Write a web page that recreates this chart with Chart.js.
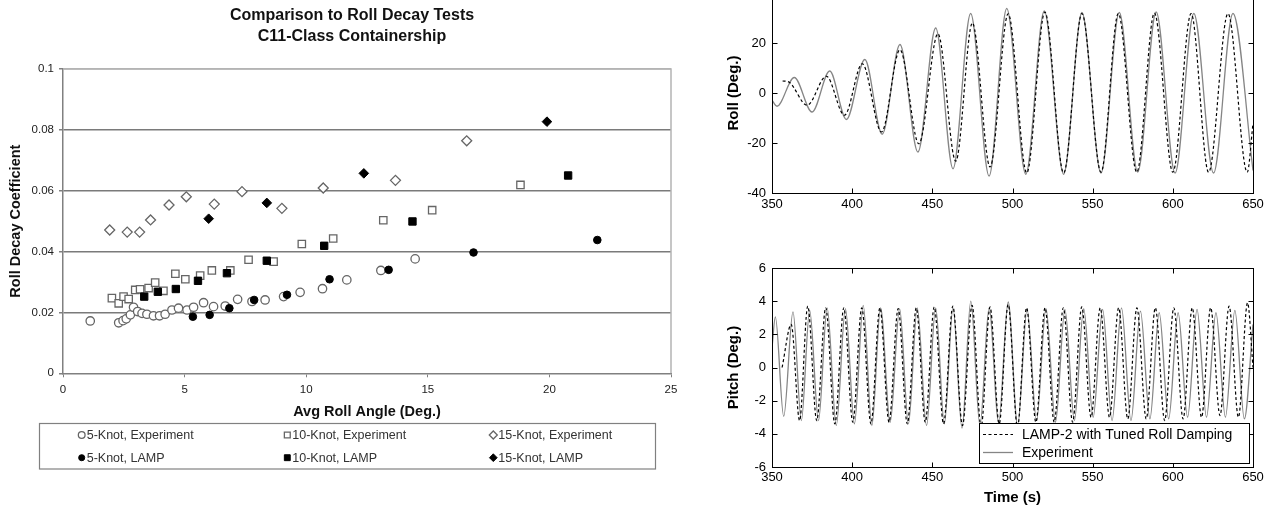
<!DOCTYPE html>
<html>
<head>
<meta charset="utf-8">
<script src="https://cdn.jsdelivr.net/npm/chart.js@4.4.0/dist/chart.umd.min.js"></script>
<style>
  body { margin: 0; background: #fff; width: 1270px; height: 509px; overflow: hidden; position: relative; }
  canvas { position: absolute; }
  #decay-chart { left: 0; top: 0; }
  #roll-chart { left: 700px; top: -27px; }
  #pitch-chart { left: 700px; top: 250px; }
</style>
</head>
<body>
<canvas id="decay-chart" width="700" height="509"></canvas>
<canvas id="roll-chart" width="570" height="250"></canvas>
<canvas id="pitch-chart" width="570" height="259"></canvas>
<script>
// roll-decay.js

// === Data: roll decay coefficient vs avg roll angle ===
const knot5Exp = [[1.12,0.0172],[2.29,0.0166],[2.47,0.0173],[2.60,0.0179],[2.77,0.0192],[2.90,0.0217],[3.07,0.0203],[3.25,0.0197],[3.45,0.0194],[3.72,0.0189],[3.97,0.0189],[4.20,0.0194],[4.48,0.0208],[4.75,0.0214],[5.10,0.0208],[5.37,0.0217],[5.78,0.0232],[6.19,0.0219],[6.67,0.0221],[7.18,0.0243],[7.77,0.0236],[8.31,0.0241],[9.07,0.0252],[9.75,0.0266],[10.67,0.0278],[11.67,0.0307],[13.07,0.0338],[14.48,0.0376]];
const knot10Exp = [[2.01,0.0247],[2.29,0.0230],[2.49,0.0252],[2.70,0.0244],[2.97,0.0274],[3.17,0.0276],[3.52,0.0280],[3.79,0.0298],[4.13,0.0271],[4.62,0.0327],[5.03,0.0309],[5.64,0.0321],[6.12,0.0338],[6.88,0.0338],[7.63,0.0373],[8.66,0.0367],[9.82,0.0425],[11.11,0.0443],[13.17,0.0503],[15.18,0.0536],[18.81,0.0619]];
const knot15Exp = [[1.92,0.0471],[2.64,0.0464],[3.15,0.0464],[3.60,0.0504],[4.36,0.0553],[5.07,0.0580],[6.22,0.0556],[7.36,0.0597],[9.00,0.0542],[10.70,0.0609],[13.67,0.0634],[16.60,0.0764]];
const knot5Lamp = [[5.34,0.0186],[6.03,0.0192],[6.84,0.0214],[7.86,0.0241],[9.21,0.0258],[10.96,0.0309],[13.39,0.0340],[16.88,0.0397],[21.97,0.0438]];
const knot10Lamp = [[3.34,0.0252],[3.90,0.0268],[4.64,0.0277],[5.55,0.0304],[6.74,0.0329],[8.38,0.0370],[10.74,0.0419],[14.37,0.0499],[20.77,0.0650]];
const knot15Lamp = [[5.99,0.0508],[8.38,0.0560],[12.37,0.0657],[19.90,0.0827]];

const decayTitle = ["Comparison to Roll Decay Tests", "C11-Class Containership"];

// === Data: roll time history (peaks and troughs) ===
const rollLampTime = [356.6, 360.5, 371.9, 383.9, 395.2, 406.3, 418.3, 429.8, 441.6, 453.5, 464.6, 475.0, 486.0, 497.3, 508.9, 520.2, 531.9, 543.3, 555.2, 566.0, 577.5, 588.5, 600.0, 611.4, 622.3, 634.4, 646.4, 650];
const rollLampDeg = [4.8, 4.4, -4.9, 6.7, -8.9, 11.7, -15.6, 17.3, -20.3, 23.7, -27.3, 28.0, -29.6, 31.7, -32.0, 32.4, -32.0, 31.8, -31.7, 31.8, -31.7, 32.0, -31.7, 31.8, -31.7, 31.8, -31.7, -12.2];
const rollExpTime = [350, 353.1, 363.9, 375.0, 386.0, 396.4, 407.9, 418.7, 429.8, 441.0, 452.1, 462.9, 473.9, 485.4, 496.4, 508.3, 519.8, 531.9, 543.3, 555.2, 566.6, 578.1, 589.6, 601.4, 613.1, 625.4, 637.5, 650];
const rollExpDeg = [-2.9, -5.3, 6.2, -7.6, 8.8, -10.6, 13.4, -16.5, 19.4, -23.6, 26.0, -30.3, 31.8, -33.2, 33.8, -32.5, 32.8, -32.5, 32.2, -32.0, 32.2, -31.6, 32.4, -32.0, 31.8, -32.0, 31.8, -31.0];

// === Data: pitch time history (peaks and troughs) ===
const pitchLampTime = [356.3, 362.0, 367.2, 372.3, 377.9, 383.5, 389.2, 394.8, 400.4, 406.0, 411.7, 417.3, 423.0, 428.7, 434.4, 440.0, 445.6, 451.2, 457.0, 462.8, 468.8, 474.8, 480.4, 486.0, 491.7, 497.3, 503.1, 508.8, 514.6, 520.3, 526.0, 531.7, 537.5, 543.2, 549.0, 554.7, 560.5, 566.2, 571.9, 577.6, 583.4, 589.1, 594.9, 600.6, 606.4, 612.1, 617.9, 623.6, 629.4, 635.1, 640.9, 646.6, 650];
const pitchLampDeg = [0, 2.6, -3.2, 3.7, -3.2, 3.6, -3.4, 3.6, -3.3, 3.6, -3.4, 3.6, -3.3, 3.55, -3.4, 3.6, -3.3, 3.65, -3.4, 3.7, -3.5, 3.75, -3.6, 3.65, -3.4, 3.8, -3.6, 3.6, -3.3, 3.6, -3.3, 3.6, -3.3, 3.65, -3.0, 3.6, -3.0, 3.6, -3.1, 3.6, -3.1, 3.6, -3.2, 3.6, -3.1, 3.6, -3.0, 3.6, -2.9, 3.7, -3.0, 3.9, 0];
const pitchExpTime = [350, 352.1, 357.3, 363.1, 368.3, 373.5, 379.0, 384.4, 390.1, 395.8, 401.4, 406.9, 412.3, 417.7, 423.7, 429.6, 435.1, 440.6, 446.4, 452.1, 457.5, 462.9, 468.5, 474.0, 479.7, 485.4, 491.4, 497.3, 503.2, 509.1, 515.0, 520.9, 526.8, 532.7, 538.6, 544.4, 550.3, 556.2, 562.1, 568.0, 573.9, 579.8, 585.7, 591.5, 597.4, 603.3, 609.2, 615.1, 621.0, 626.9, 632.8, 638.7, 644.6, 650];
const pitchExpDeg = [1.2, 3.05, -2.95, 3.35, -3.2, 3.45, -3.2, 3.6, -3.5, 3.55, -3.4, 3.75, -3.5, 3.6, -3.3, 3.55, -3.4, 3.6, -3.5, 3.6, -3.4, 3.6, -3.65, 4.0, -3.5, 3.6, -3.3, 3.95, -3.5, 3.5, -3.2, 3.55, -3.3, 3.5, -3.2, 3.55, -3.0, 3.5, -3.2, 3.6, -3.2, 3.4, -3.1, 3.3, -3.1, 3.3, -3.0, 3.5, -3.0, 3.3, -3.0, 3.45, -3.1, 2.6];

const FONT = "Arial, 'Liberation Sans', sans-serif";
Chart.defaults.font.family = FONT;

const toXY = pairs => pairs.map(p => ({ x: p[0], y: p[1] }));
const zipXY = (xs, ys) => xs.map((x, i) => ({ x, y: ys[i] }));

// === 1. Roll decay scatter ===
const decayDecor = {
  id: "decayDecor",
  afterDraw(chart) {
    const { ctx, chartArea: a } = chart;
    ctx.save();
    // light frame on top / right
    ctx.strokeStyle = "#b4b4b4";
    ctx.lineWidth = 1.5;
    ctx.beginPath();
    ctx.moveTo(a.left, a.top);
    ctx.lineTo(a.right, a.top);
    ctx.lineTo(a.right, a.bottom);
    ctx.stroke();

    ctx.fillStyle = "#111";
    ctx.font = "bold 16px " + FONT;
    ctx.textAlign = "center";
    ctx.textBaseline = "middle";
    decayTitle.forEach((t, i) => ctx.fillText(t, 352, 16 + i * 20.7));

    // legend box, 3 columns x 2 rows
    ctx.strokeStyle = "#808080";
    ctx.lineWidth = 1.2;
    ctx.strokeRect(39.5, 423.5, 616, 45.5);
    const cols = [81.7, 287.3, 493.3];
    const rows = [435, 457.7];
    ctx.font = "12.5px " + FONT;
    ctx.textAlign = "left";
    chart.data.datasets.forEach((ds, i) => {
      const x = cols[i % 3];
      const y = rows[Math.floor(i / 3)];
      ctx.fillStyle = ds.backgroundColor;
      ctx.strokeStyle = ds.borderColor;
      ctx.lineWidth = ds.borderWidth;
      Chart.helpers.drawPoint(ctx, { pointStyle: ds.pointStyle, radius: ds.pointRadius * 0.8, borderWidth: ds.borderWidth, rotation: 0 }, x, y);
      ctx.fillStyle = "#333";
      ctx.fillText(ds.label, x + 5, y + 0.5);
    });
    ctx.restore();
  }
};

function markerSet(label, data, style, radius, filled, order) {
  return {
    label,
    data: toXY(data),
    pointStyle: style,
    pointRadius: radius,
    borderWidth: filled ? 1 : 1.3,
    borderColor: filled ? "#000" : "#666",
    backgroundColor: filled ? "#000" : "#fff",
    order
  };
}

new Chart(document.getElementById("decay-chart"), {
  type: "scatter",
  data: {
    datasets: [
      markerSet("5-Knot, Experiment", knot5Exp, "circle", 4.2, false, 2),
      markerSet("10-Knot, Experiment", knot10Exp, "rect", 5.2, false, 2),
      markerSet("15-Knot, Experiment", knot15Exp, "rectRot", 5, false, 2),
      markerSet("5-Knot, LAMP", knot5Lamp, "circle", 3.8, true, 1),
      markerSet("10-Knot, LAMP", knot10Lamp, "rect", 5.2, true, 1),
      markerSet("15-Knot, LAMP", knot15Lamp, "rectRot", 4.8, true, 1)
    ]
  },
  options: {
    responsive: false,
    animation: false,
    layout: { padding: { top: 69, right: 29, bottom: 0, left: 0 } },
    plugins: { legend: { display: false }, tooltip: { enabled: false } },
    scales: {
      x: {
        type: "linear", min: 0, max: 25,
        afterFit: s => { s.height = 509 - 373.3; },
        ticks: { stepSize: 5, color: "#222", font: { size: 11.5 }, padding: 6, maxRotation: 0 },
        grid: { drawOnChartArea: false, tickLength: 4, tickColor: "#808080" },
        border: { color: "#808080", width: 1.5 },
        title: { display: true, text: "Avg Roll Angle (Deg.)", color: "#111", font: { size: 14.5, weight: "bold" }, padding: { top: 0, bottom: 88 } }
      },
      y: {
        min: 0, max: 0.1,
        afterFit: s => { s.width = 63; },
        ticks: {
          stepSize: 0.02, color: "#222", font: { size: 11.5 }, padding: 5,
          callback: v => String(Number(v.toFixed(2)))
        },
        grid: {
          color: c => c.tick.value === 0 ? "rgba(0,0,0,0)" : (c.tick.value > 0.09 ? "#b4b4b4" : "#7a7a7a"),
          lineWidth: 1.5, tickLength: 4, tickColor: "#808080"
        },
        border: { color: "#808080", width: 1.5 },
        title: { display: true, text: "Roll Decay Coefficient", color: "#111", font: { size: 14.5, weight: "bold" }, padding: { top: 7.3, bottom: 0 } }
      }
    }
  },
  plugins: [decayDecor]
});

// === 2. Time histories (MATLAB style frame) ===
const matlabFrame = {
  id: "matlabFrame",
  afterDraw(chart) {
    const { ctx, chartArea: a, scales: { x, y } } = chart;
    const L = Math.round(a.left) + 0.5, R = Math.round(a.right) + 0.5;
    const T = Math.round(a.top) + 0.5, B = Math.round(a.bottom) + 0.5;
    ctx.save();
    ctx.strokeStyle = "#000";
    ctx.lineWidth = 1;
    ctx.strokeRect(L, T, R - L, B - T);
    ctx.beginPath();
    x.ticks.forEach(t => {
      const px = Math.round(x.getPixelForValue(t.value)) + 0.5;
      if (px <= L + 1 || px >= R - 1) return;
      ctx.moveTo(px, B); ctx.lineTo(px, B - 5);
      ctx.moveTo(px, T); ctx.lineTo(px, T + 5);
    });
    y.ticks.forEach(t => {
      const py = Math.round(y.getPixelForValue(t.value)) + 0.5;
      if (py <= T + 1 || py >= B - 1) return;
      ctx.moveTo(L, py); ctx.lineTo(L + 5, py);
      ctx.moveTo(R, py); ctx.lineTo(R - 5, py);
    });
    ctx.stroke();

    const box = chart.options.plugins.matlabFrame;
    if (box && box.legend) {
      ctx.fillStyle = "#fff";
      ctx.fillRect(279.5, 173.5, 270, 40);
      ctx.strokeRect(279.5, 173.5, 270, 40);
      ctx.font = "14px " + FONT;
      ctx.textAlign = "left";
      ctx.textBaseline = "middle";
      [184, 202].forEach((ly, i) => {
        const ds = chart.data.datasets[i];
        ctx.strokeStyle = ds.borderColor;
        ctx.lineWidth = ds.borderWidth;
        ctx.setLineDash(ds.borderDash || []);
        ctx.beginPath();
        ctx.moveTo(283, ly + 0.5); ctx.lineTo(313, ly + 0.5);
        ctx.stroke();
        ctx.setLineDash([]);
        ctx.fillStyle = "#000";
        ctx.fillText(ds.label, 322, ly + 1);
      });
    }
    ctx.restore();
  }
};

function seriesSets(lampT, lampV, expT, expV) {
  return [
    {
      label: "LAMP-2 with Tuned Roll Damping",
      data: zipXY(lampT, lampV),
      borderColor: "#000", borderWidth: 1.2, borderDash: [3, 2.5],
      pointRadius: 0, cubicInterpolationMode: "monotone"
    },
    {
      label: "Experiment",
      data: zipXY(expT, expV),
      borderColor: "#858585", borderWidth: 1.3,
      pointRadius: 0, cubicInterpolationMode: "monotone"
    }
  ];
}

function timeOptions(yMin, yMax, yStep, yTitle, topPad, xHeight, xTitle, xLabelPad, legend) {
  return {
    responsive: false,
    animation: false,
    layout: { padding: { top: topPad, right: 17, bottom: 0, left: 0 } },
    plugins: { legend: { display: false }, tooltip: { enabled: false }, matlabFrame: { legend } },
    scales: {
      x: {
        type: "linear", min: 350, max: 650,
        afterFit: s => { s.height = xHeight; },
        ticks: { stepSize: 50, color: "#000", font: { size: 13 }, padding: xLabelPad, maxRotation: 0 },
        grid: { display: false, drawTicks: false },
        border: { display: false },
        title: { display: !!xTitle, text: xTitle || "", color: "#000", font: { size: 15, weight: "bold" }, padding: { top: 0, bottom: 2 } }
      },
      y: {
        min: yMin, max: yMax,
        afterFit: s => { s.width = 72; },
        ticks: { stepSize: yStep, color: "#000", font: { size: 13 }, padding: 6 },
        grid: { display: false, drawTicks: false },
        border: { display: false },
        title: { display: true, text: yTitle, color: "#000", font: { size: 15, weight: "bold" }, padding: { top: 25.3, bottom: 0 } }
      }
    }
  };
}

new Chart(document.getElementById("roll-chart"), {
  type: "line",
  data: { datasets: seriesSets(rollLampTime, rollLampDeg, rollExpTime, rollExpDeg) },
  options: timeOptions(-40, 40, 20, "Roll (Deg.)", 20, 30, null, 3.2, false),
  plugins: [matlabFrame]
});

new Chart(document.getElementById("pitch-chart"), {
  type: "line",
  data: { datasets: seriesSets(pitchLampTime, pitchLampDeg, pitchExpTime, pitchExpDeg) },
  options: timeOptions(-6, 6, 2, "Pitch (Deg.)", 18, 42, "Time (s)", 2.9, true),
  plugins: [matlabFrame]
});
</script>
</body>
</html>
